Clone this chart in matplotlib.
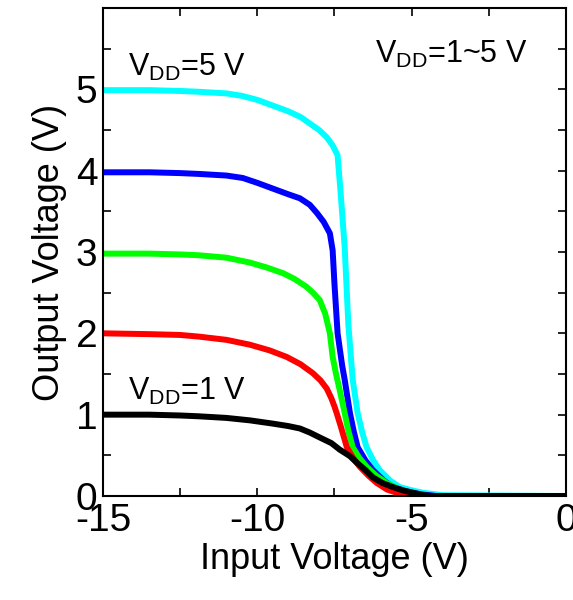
import matplotlib
matplotlib.use('Agg')
import matplotlib.pyplot as plt
from matplotlib.ticker import MultipleLocator

plt.rcParams['font.family'] = ['Liberation Sans', 'DejaVu Sans']
plt.rcParams['mathtext.default'] = 'regular'
plt.rcParams['axes.unicode_minus'] = False

# transfer curves
x5 = [-15, -13.5, -12.5, -11.9, -11.0, -10.5, -10.0, -9.5, -9.0, -8.6, -8.0, -7.75, -7.56, -7.4,
      -7.3, -7.17, -7.05, -6.91, -6.75, -6.6, -6.46, -6.25, -6.04, -5.7, -5.39, -5.0, -4.64, -4.0, 0]
y5 = [4.99, 4.99, 4.98, 4.97, 4.95, 4.92, 4.87, 4.80, 4.73, 4.66, 4.50, 4.41, 4.31, 4.19,
      3.72, 3.06, 2.1, 1.43, 1.02, 0.78, 0.60, 0.44, 0.32, 0.19, 0.11, 0.07, 0.04, 0.01, 0.0]

x4 = [-15, -13.5, -12.5, -11.9, -11.0, -10.47, -10.0, -9.5, -9.0, -8.62, -8.3, -8.07, -7.85, -7.65,
      -7.56, -7.5, -7.4, -7.25, -7.17, -7.0, -6.88, -6.75, -6.5, -6.26, -5.9, -5.61, -5.2, -4.7, -4.2, 0]
y4 = [3.98, 3.98, 3.97, 3.96, 3.94, 3.91, 3.85, 3.78, 3.71, 3.66, 3.58, 3.48, 3.37, 3.23,
      3.02, 2.6, 2.0, 1.6, 1.43, 1.02, 0.80, 0.60, 0.44, 0.32, 0.19, 0.11, 0.06, 0.02, 0.0, 0.0]

x3 = [-15, -13.5, -12.5, -11.9, -11.0, -10.24, -9.7, -9.17, -8.8, -8.40, -8.2, -7.98, -7.8, -7.65,
      -7.56, -7.45, -7.33, -7.17, -7.05, -6.91, -6.7, -6.46, -6.15, -5.81, -5.4, -5.0, -4.5, 0]
y3 = [2.98, 2.98, 2.97, 2.96, 2.93, 2.87, 2.81, 2.74, 2.67, 2.57, 2.50, 2.41, 2.24, 2.0,
      1.71, 1.50, 1.30, 1.02, 0.80, 0.60, 0.47, 0.36, 0.25, 0.16, 0.08, 0.03, 0.0, 0.0]

x2 = [-15, -13.5, -12.5, -11.9, -11.0, -10.24, -9.6, -9.05, -8.6, -8.20, -7.95, -7.75, -7.6, -7.5,
      -7.43, -7.3, -7.1, -6.9, -6.68, -6.4, -6.13, -5.8, -5.48, -5.16, 0]
y2 = [2.0, 1.99, 1.98, 1.96, 1.92, 1.86, 1.79, 1.71, 1.62, 1.51, 1.42, 1.32, 1.20, 1.10,
      1.02, 0.86, 0.60, 0.47, 0.36, 0.25, 0.16, 0.08, 0.04, 0.0, 0.0]

x1 = [-15, -13.5, -12.5, -11.9, -11.0, -10.24, -9.5, -9.0, -8.62, -8.3, -7.98, -7.6, -7.33, -7.0,
      -6.78, -6.5, -6.26, -5.95, -5.61, -5.3, -4.97, -4.6, -4.32, 0]
y1 = [1.0, 1.0, 0.99, 0.98, 0.96, 0.93, 0.89, 0.86, 0.83, 0.78, 0.72, 0.65, 0.57, 0.49,
      0.41, 0.32, 0.23, 0.16, 0.11, 0.07, 0.04, 0.01, 0.0, 0.0]

curves = [(x1, y1, 'black'), (x2, y2, 'red'), (x3, y3, '#00ff00'),
          (x4, y4, 'blue'), (x5, y5, 'cyan')]

fig = plt.figure(figsize=(5.73, 6.0), dpi=100)
ax = fig.add_axes([103 / 573, 1 - 496 / 600, (566 - 103) / 573, (496 - 8) / 600])

for xs, ys, c in curves[::-1]:
    ax.plot(xs, ys, color=c, lw=4.3, solid_joinstyle='round')

ax.set_xlim(-15, 0)
ax.set_ylim(0, 6)
ax.xaxis.set_major_locator(MultipleLocator(5))
ax.xaxis.set_minor_locator(MultipleLocator(2.5))
ax.set_yticks([0, 1, 2, 3, 4, 5])
ax.yaxis.set_minor_locator(MultipleLocator(0.5))
ax.tick_params(which='both', direction='in', top=True, right=True, width=1.2,
               labelsize=28, pad=4, length=6)
ax.tick_params(axis='x', pad=5)
for s in ax.spines.values():
    s.set_linewidth(1.5)

ax.set_xlabel('Input Voltage (V)', fontsize=26, labelpad=2)
ax.set_ylabel('Output Voltage (V)', fontsize=26, labelpad=6)

ax.text(-14.2, 5.17, r'V$_{DD}$=5 V', fontsize=22)
ax.text(-6.2, 5.33, r'V$_{DD}$=1~5 V', fontsize=22)
ax.text(-14.2, 1.18, r'V$_{DD}$=1 V', fontsize=22)

fig.savefig('out.png', dpi=100)
